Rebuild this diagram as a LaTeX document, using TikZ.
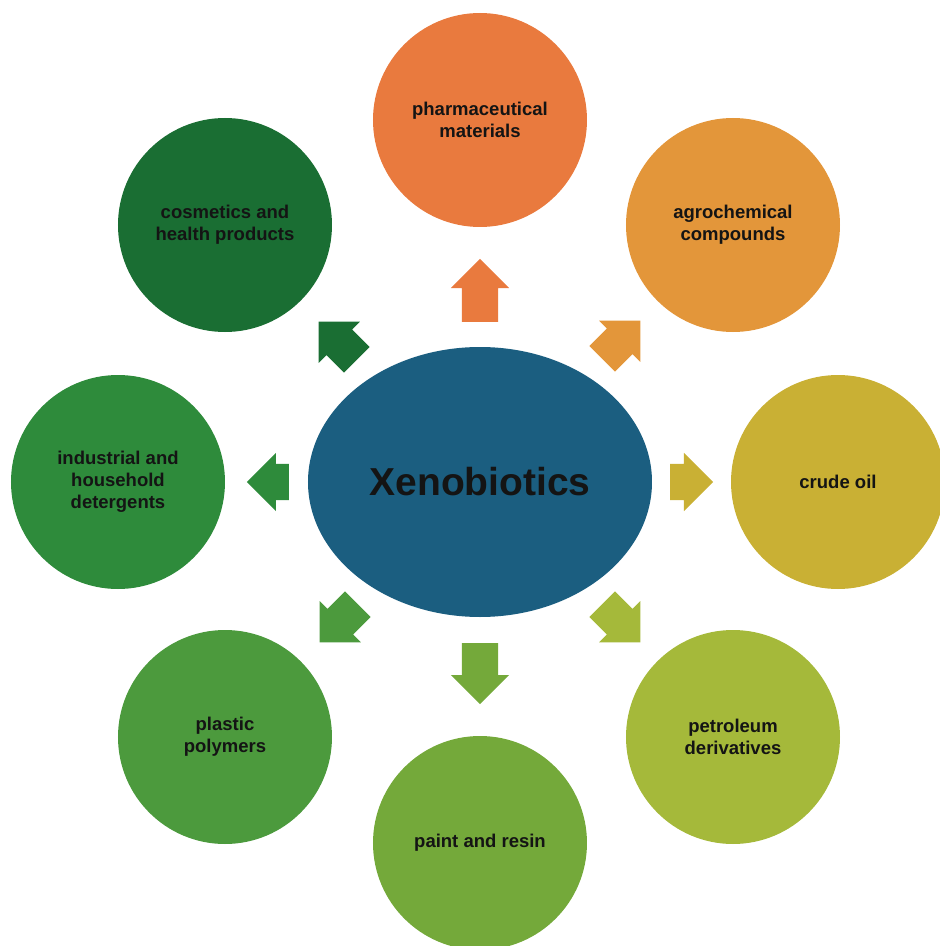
\documentclass[tikz,border=0pt]{standalone}
\usepackage{fontspec}
\setmainfont{Liberation Sans}
\usetikzlibrary{shapes.geometric,shapes.arrows}

\definecolor{xenoblue}{RGB}{27,94,128}
\definecolor{pharmaorange}{RGB}{233,122,62}
\definecolor{agroorange}{RGB}{227,150,58}
\definecolor{crudeyellow}{RGB}{201,176,52}
\definecolor{petrogreen}{RGB}{165,185,58}
\definecolor{paintgreen}{RGB}{116,169,58}
\definecolor{plasticgreen}{RGB}{76,154,61}
\definecolor{detergreen}{RGB}{46,139,59}
\definecolor{cosmegreen}{RGB}{26,110,51}
\definecolor{inktext}{RGB}{20,20,20}

\begin{document}
\begin{tikzpicture}[x=1pt, y=1pt]
\tikzstyle{bubble}=[circle, draw=none, inner sep=0pt, minimum size=214pt, align=center, text=inktext, font=\bfseries\fontsize{18.5}{22}\selectfont]
\tikzstyle{blockarrow}=[single arrow, draw=none, inner xsep=0pt, inner ysep=18pt, minimum width=58pt, single arrow head extend=11pt, single arrow tip angle=90, anchor=tail]
\useasboundingbox (-480,-464) rectangle (460,482);

% centre
\node[ellipse, fill=xenoblue, inner sep=0pt, minimum width=344pt, minimum height=270pt, text=inktext, font=\bfseries\fontsize{39}{44}\selectfont] (xeno) at (0,0) {Xenobiotics};

% sources round the centre
\node[bubble, fill=pharmaorange] (pharma)  at (0,362)     {pharmaceutical\\materials};
\node[bubble, fill=agroorange]   (agro)    at (253,257)   {agrochemical\\compounds};
\node[bubble, fill=crudeyellow]  (crude)   at (358,0)     {crude oil};
\node[bubble, fill=petrogreen]   (petro)   at (253,-255)  {petroleum\\derivatives};
\node[bubble, fill=paintgreen]   (paint)   at (0,-361)    {paint and resin};
\node[bubble, fill=plasticgreen] (plastic) at (-255,-255) {plastic\\polymers};
\node[bubble, fill=detergreen]   (deter)   at (-362,0)    {industrial and\\household\\detergents};
\node[bubble, fill=cosmegreen]   (cosme)   at (-255,257)  {cosmetics and\\health products};

% arrows out of the centre, placed by their tails
\node[blockarrow, fill=pharmaorange, rotate=90,   minimum height=63pt] (toPharma)  at (0,160)    {};
\node[blockarrow, fill=agroorange,   rotate=45,   minimum height=54pt] (toAgro)    at (122,123)  {};
\node[blockarrow, fill=crudeyellow,  rotate=0,    minimum height=43pt] (toCrude)   at (190,0)    {};
\node[blockarrow, fill=petrogreen,   rotate=-45,  minimum height=54pt] (toPetro)   at (122,-122) {};
\node[blockarrow, fill=paintgreen,   rotate=-90,  minimum height=61pt] (toPaint)   at (0,-161)   {};
\node[blockarrow, fill=plasticgreen, rotate=-135, minimum height=54pt] (toPlastic) at (-122,-122) {};
\node[blockarrow, fill=detergreen,   rotate=180,  minimum height=42pt] (toDeter)   at (-191,0)   {};
\node[blockarrow, fill=cosmegreen,   rotate=135,  minimum height=54pt] (toCosme)   at (-123,122) {};
\end{tikzpicture}
\end{document}
